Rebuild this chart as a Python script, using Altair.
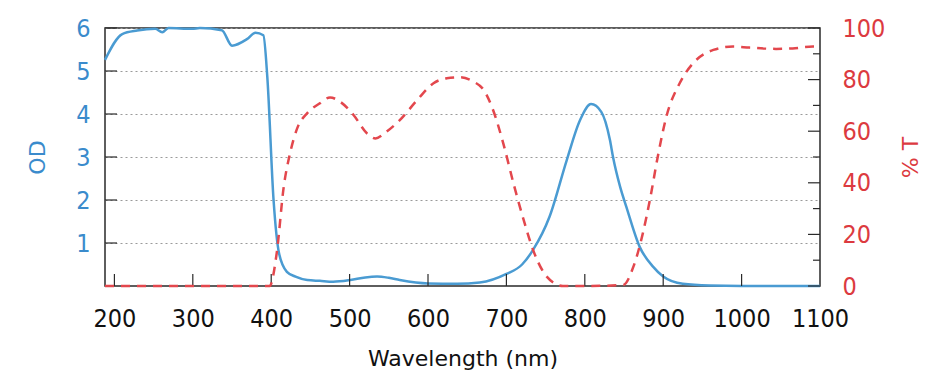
import altair as alt
import pandas as pd

# OD curve (left axis)
od_wl = [188, 210, 229, 252, 261, 269, 299, 309, 337, 350, 369, 380, 390, 395, 403, 410,
         420, 431, 446, 462, 479, 501, 520, 535, 550, 564, 600, 637, 666, 700, 720, 734,
         755, 777, 794, 808, 821, 832, 836, 845, 853, 870, 887, 900, 925, 959, 1000, 1050, 1100]
od_val = [5.26, 5.86, 5.94, 5.98, 5.90, 6.00, 5.98, 6.00, 5.95, 5.59, 5.74, 5.89, 5.83, 4.87, 2.00, 0.76,
          0.33, 0.22, 0.14, 0.12, 0.10, 0.14, 0.20, 0.22, 0.19, 0.14, 0.06, 0.05, 0.08, 0.28, 0.50, 0.84,
          1.61, 2.93, 3.86, 4.23, 4.05, 3.40, 3.00, 2.31, 1.84, 0.91, 0.45, 0.22, 0.05, 0.01, 0.0, 0.0, 0.0]

# %T curve (right axis)
t_wl = [188, 300, 398, 407, 416, 424, 433, 446, 462, 475, 488, 505, 522, 533, 547, 564, 586,
        607, 624, 641, 658, 671, 683, 696, 709, 722, 734, 747, 760, 772, 800, 849, 862, 874,
        883, 893, 904, 921, 938, 964, 989, 1010, 1044, 1065, 1091, 1100]
t_val = [0, 0, 0, 12.7, 38.5, 51.4, 61.0, 67.0, 70.8, 73.1, 71.4, 66.3, 59.2, 57.2, 59.8, 64.3, 72.0,
         78.6, 80.5, 80.9, 79.2, 76.0, 68.2, 55.3, 39.8, 25.6, 14.0, 5.5, 1.3, 0, 0, 0.4, 7.5, 20.4,
         33.3, 50.0, 65.6, 78.6, 86.3, 91.5, 92.8, 92.4, 91.9, 92.1, 92.8, 92.8]

x_ticks = [200, 300, 400, 500, 600, 700, 800, 900, 1000, 1100]
od_ticks = [1, 2, 3, 4, 5, 6]
t_major = [0, 20, 40, 60, 80, 100]
t_minor = [10, 30, 50, 70, 90]

BLUE_LINE = "#4a9bd2"
BLUE_TEXT = "#3a8bcc"
RED_LINE = "#e3474d"
RED_TEXT = "#dc3a40"
FRAME = "#2a2a2a"
LABEL_FONT = "DejaVu Sans Condensed, Roboto, sans-serif"
TITLE_FONT = "DejaVu Sans, sans-serif"
W, H = 715, 258

od_df = pd.DataFrame({"wl": od_wl, "od": od_val})
t_df = pd.DataFrame({"wl": t_wl, "t": t_val})
xt_df = pd.DataFrame({"wl": x_ticks[:-1]})
odt_df = pd.DataFrame({"od": od_ticks})
tmaj_df = pd.DataFrame({"t": t_major})
tmin_df = pd.DataFrame({"t": t_minor})

xscale = alt.Scale(domain=[188, 1100], nice=False, zero=False)
yl = alt.Scale(domain=[0, 6], nice=False)
yr = alt.Scale(domain=[0, 100], nice=False)

x_axis = alt.Axis(values=x_ticks, format="d", labelOverlap=False, labelFlush=False,
                  title="Wavelength (nm)", grid=False, ticks=False, domain=False,
                  labelFont=LABEL_FONT, labelFontSize=25, labelColor="#111", labelPadding=20,
                  titleFont=TITLE_FONT, titleFontSize=22, titleFontWeight="normal", titleColor="#111",
                  titlePadding=17)
left_axis = alt.Axis(orient="left", values=od_ticks, format="d", labelOverlap=False,
                     title="OD", grid=True, gridDash=[2, 3],
                     gridColor="#9a9a9a", gridWidth=1, ticks=False, domain=False,
                     labelFont=LABEL_FONT, labelFontSize=25, labelColor=BLUE_TEXT, labelPadding=15,
                     titleFont=TITLE_FONT, titleFontSize=22, titleFontWeight="normal",
                     titleColor=BLUE_TEXT, titlePadding=26)
right_axis = alt.Axis(orient="right", values=t_major, format="d", labelOverlap=False,
                      title="% T", grid=False, ticks=False,
                      domain=False, labelFont=LABEL_FONT, labelFontSize=25, labelColor=RED_TEXT,
                      labelPadding=22, titleFont=TITLE_FONT, titleFontSize=22,
                      titleFontWeight="normal", titleColor=RED_TEXT, titleAngle=270,
                      titleBaseline="top", titlePadding=16)

X = alt.X("wl:Q", scale=xscale, axis=x_axis)

od_line = alt.Chart(od_df).mark_line(color=BLUE_LINE, strokeWidth=2.5, interpolate="monotone").encode(
    x=X,
    y=alt.Y("od:Q", scale=yl, axis=left_axis),
)
t_line = alt.Chart(t_df).mark_line(color=RED_LINE, strokeWidth=2.5, strokeDash=[9, 7],
                                   interpolate="monotone").encode(
    x=X,
    y=alt.Y("t:Q", scale=yr, axis=right_axis),
)
xt = alt.Chart(xt_df).mark_rule(color=FRAME, strokeWidth=1.2).encode(
    x=X,
    y=alt.value(H), y2=alt.value(H - 12),
)
lt = alt.Chart(odt_df).mark_rule(color=FRAME, strokeWidth=1.2).encode(
    y=alt.Y("od:Q", scale=yl, axis=None),
    x=alt.value(0), x2=alt.value(12),
)
rt_major = alt.Chart(tmaj_df).mark_rule(color=FRAME, strokeWidth=1.2).encode(
    y=alt.Y("t:Q", scale=yr, axis=None),
    x=alt.value(W), x2=alt.value(W - 12),
)
rt_minor = alt.Chart(tmin_df).mark_rule(color=FRAME, strokeWidth=1.2).encode(
    y=alt.Y("t:Q", scale=yr, axis=None),
    x=alt.value(W), x2=alt.value(W - 7),
)

chart = alt.layer(od_line, lt, xt, t_line, rt_major, rt_minor).resolve_scale(
    y="independent"
).properties(
    width=W, height=H,
    padding={"left": 97, "top": 20, "right": 110, "bottom": 90},
    autosize=alt.AutoSizeParams(type="none"),
).configure_view(stroke=FRAME, strokeWidth=1.5)

chart.save("out.html", embed_options={"renderer": "svg", "actions": False})
